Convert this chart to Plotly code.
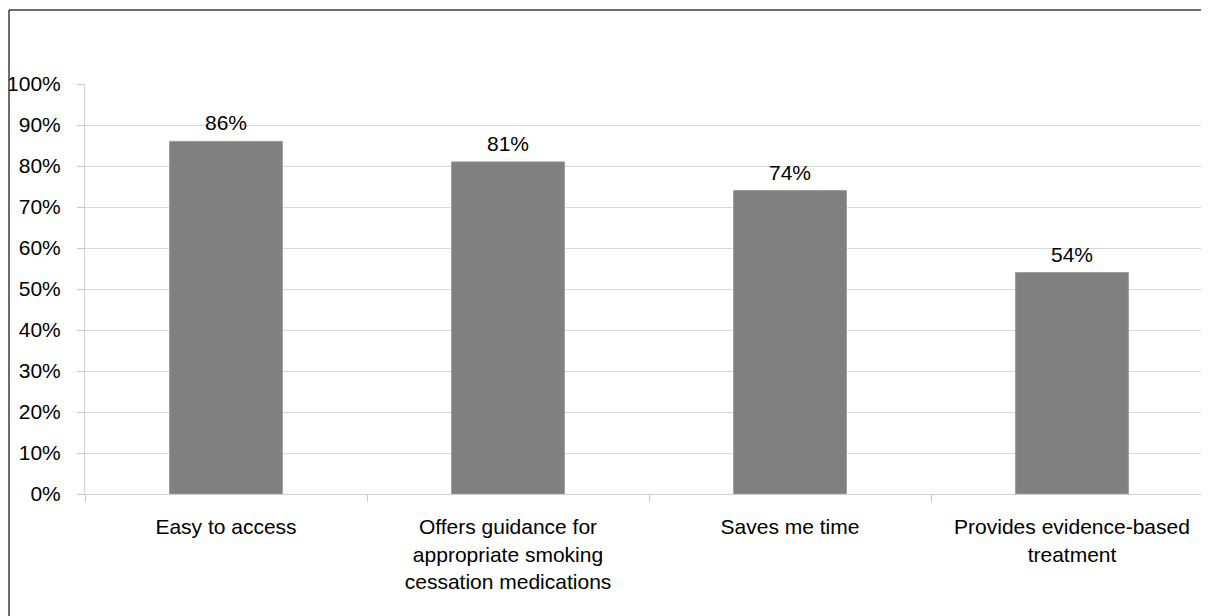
import plotly.graph_objects as go

categories = [
    "Easy to access",
    "Offers guidance for<br>appropriate smoking<br>cessation medications",
    "Saves me time",
    "Provides evidence-based<br>treatment",
]
values = [86, 81, 74, 54]
y_ticks = [0, 10, 20, 30, 40, 50, 60, 70, 80, 90, 100]
y_tick_labels = [f"{v}%" for v in y_ticks]

FONT = "Liberation Sans, Arial, sans-serif"

W, H = 1201, 608
L, T, B = 77, 76, 122
plot_w = W - L
plot_h = H - T - B

fig = go.Figure()
fig.add_trace(go.Bar(
    x=categories,
    y=values,
    width=0.4,
    marker=dict(color="#808080", line=dict(color="#9a9a9a", width=1)),
    hoverinfo="skip",
))

for c, v in zip(categories, values):
    fig.add_annotation(
        x=c, y=v, text=f"{v}%", showarrow=False,
        yanchor="bottom", yshift=5,
        font=dict(family=FONT, size=21, color="#000000"),
    )

# outer frame: left and top edges only
fx0 = (1 - L) / plot_w
fy1 = (plot_h + T - 2) / plot_h
frame_style = dict(color="#3c3c3c", width=1.5)
fig.add_shape(type="line", xref="paper", yref="paper",
              x0=fx0, x1=fx0, y0=-0.5, y1=fy1, line=frame_style, layer="above")
fig.add_shape(type="line", xref="paper", yref="paper",
              x0=fx0, x1=1.2, y0=fy1, y1=fy1, line=frame_style, layer="above")

fig.update_layout(
    width=W, height=H,
    margin=dict(l=L, r=0, t=T, b=B, pad=0),
    paper_bgcolor="white", plot_bgcolor="white",
    showlegend=False,
    font=dict(family=FONT, size=21, color="#000000"),
    bargap=0.6,
)
fig.update_xaxes(
    type="category",
    range=[-0.5, -0.5 + plot_w / 282],
    tickson="boundaries",
    ticks="outside", ticklen=7, tickcolor="#c8c8c8",
    showline=True, linecolor="#d0d0d0", linewidth=1,
    showgrid=False,
    tickfont=dict(family=FONT, size=21, color="#000000"),
    ticklabelstandoff=14,
)
fig.update_yaxes(
    range=[0, 100],
    tickvals=y_ticks, ticktext=y_tick_labels,
    ticks="outside", ticklen=7, tickcolor="#c8c8c8",
    showline=True, linecolor="#d0d0d0", linewidth=1,
    showgrid=True, gridcolor="#d9d9d9", gridwidth=1,
    zeroline=False,
    tickfont=dict(family=FONT, size=21, color="#000000"),
    ticklabelstandoff=12,
)

fig.write_html("out.html")
